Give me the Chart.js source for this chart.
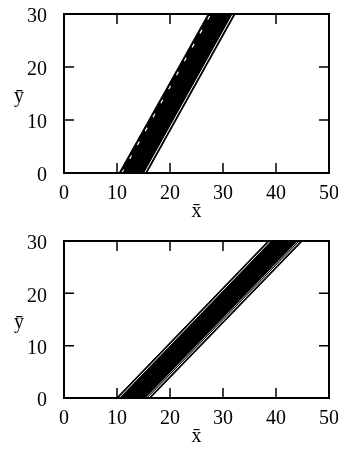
<!DOCTYPE html>
<html>
<head>
<meta charset="utf-8">
<script src="https://cdn.jsdelivr.net/npm/chart.js@4.4.1/dist/chart.umd.min.js"></script>
<style>
  html, body { margin: 0; padding: 0; background: #fff; }
  #wrap { position: relative; width: 338px; height: 449px; overflow: hidden; }
  .panel { position: absolute; left: 0; width: 338px; }
  #upper { top: 0; height: 225px; }
  #lower { top: 225px; height: 224px; }
</style>
</head>
<body>
<div id="wrap">
  <div class="panel" id="upper"><canvas id="chart-upper"></canvas></div>
  <div class="panel" id="lower"><canvas id="chart-lower"></canvas></div>
</div>
<script>
// Axis ticks
const xTicks = [0, 10, 20, 30, 40, 50];
const yTicks = [0, 10, 20, 30];
const bandY = [0, 30]; // y at both ends of every band edge

// Upper panel: steep band, x of each edge at y = 0 and y = 30
const upperLeft = [10.4, 27.2];
const upperRight = [15.6, 32.3];
const upperInnerLeft = [10.9, 27.7];
const upperInnerRight = [15.2, 31.9];

// Lower panel: wider, shallower band
const lowerLeft = [9.9, 38.5];
const lowerRight = [16.3, 45.0];
const lowerInnerLeft = [10.35, 38.95];
const lowerInnerRight = [15.85, 44.55];
const lowerInnerRight2 = [15.45, 44.15];

const FONT = '"Liberation Serif", "Times New Roman", serif';

function edge(xs) {
  return xs.map((x, i) => ({ x, y: bandY[i] }));
}

function shape(left, right) {
  const l = edge(left), r = edge(right);
  return [l[0], r[0], r[1], l[1], l[0]];
}

function lineSet(data, color, width, dash) {
  return {
    data,
    showLine: true,
    pointRadius: 0,
    borderColor: color,
    borderWidth: width,
    borderDash: dash || [],
    fill: false,
  };
}

function bandSet(left, right) {
  return {
    data: shape(left, right),
    showLine: true,
    pointRadius: 0,
    borderColor: '#000',
    borderWidth: 1,
    backgroundColor: '#000',
    fill: 'shape',
  };
}

// Box frame, inward ticks on all sides and upright axis symbols
const frame = {
  id: 'frame',
  afterDatasetsDraw(chart) {
    const { ctx, chartArea: a, scales: { x, y } } = chart;
    ctx.save();
    ctx.strokeStyle = '#000';
    ctx.lineWidth = 1.5;
    ctx.beginPath();
    xTicks.forEach(v => {
      const px = x.getPixelForValue(v);
      ctx.moveTo(px, a.bottom); ctx.lineTo(px, a.bottom - 10);
      ctx.moveTo(px, a.top); ctx.lineTo(px, a.top + 10);
    });
    yTicks.forEach(v => {
      const py = y.getPixelForValue(v);
      ctx.moveTo(a.left, py); ctx.lineTo(a.left + 10, py);
      ctx.moveTo(a.right, py); ctx.lineTo(a.right - 10, py);
    });
    ctx.stroke();
    ctx.lineWidth = 2;
    ctx.strokeRect(a.left, a.top, a.right - a.left, a.bottom - a.top);

    ctx.fillStyle = '#000';
    ctx.font = '20px ' + FONT;
    ctx.textAlign = 'center';
    ctx.textBaseline = 'alphabetic';
    ctx.fillText('y\u0304', 19, (a.top + a.bottom) / 2 + 8);
    ctx.fillText('x\u0304', (a.left + a.right) / 2, a.bottom + 44);
    ctx.restore();
  }
};

function makeChart(id, datasets, topPad, axisHeight) {
  return new Chart(document.getElementById(id), {
    type: 'scatter',
    data: { datasets },
    options: {
      responsive: true,
      maintainAspectRatio: false,
      animation: false,
      layout: { padding: { top: topPad, right: 9, left: 0, bottom: 0 } },
      plugins: { legend: { display: false }, tooltip: { enabled: false } },
      scales: {
        x: {
          type: 'linear',
          min: 0, max: 50,
          grid: { display: false },
          border: { display: false },
          afterBuildTicks: s => { s.ticks = xTicks.map(value => ({ value })); },
          afterFit: s => {
            s.height = axisHeight;
            s.paddingLeft = 0;
            s.paddingRight = 0;
          },
          ticks: {
            autoSkip: false, maxRotation: 0, padding: 1,
            color: '#000', font: { family: FONT, size: 20 },
          },
        },
        y: {
          type: 'linear',
          min: 0, max: 30,
          grid: { display: false },
          border: { display: false },
          afterBuildTicks: s => { s.ticks = yTicks.map(value => ({ value })); },
          afterFit: s => {
            s.width = 64;
            s.paddingTop = 0;
            s.paddingBottom = 0;
          },
          ticks: {
            autoSkip: false, padding: 9, labelOffset: 3,
            color: '#000', font: { family: FONT, size: 20 },
          },
        },
      },
    },
    plugins: [frame],
  });
}

makeChart('chart-upper', [
  lineSet(edge(upperInnerLeft), '#fff', 1.2, [4, 12]),
  lineSet(edge(upperInnerRight), '#fff', 1),
  bandSet(upperLeft, upperRight),
], 14, 52);

makeChart('chart-lower', [
  lineSet(edge(lowerInnerLeft), '#fff', 1),
  lineSet(edge(lowerInnerRight), '#fff', 1),
  lineSet(edge(lowerInnerRight2), '#ddd', 0.8),
  bandSet(lowerLeft, lowerRight),
], 16, 51);
</script>
</body>
</html>
